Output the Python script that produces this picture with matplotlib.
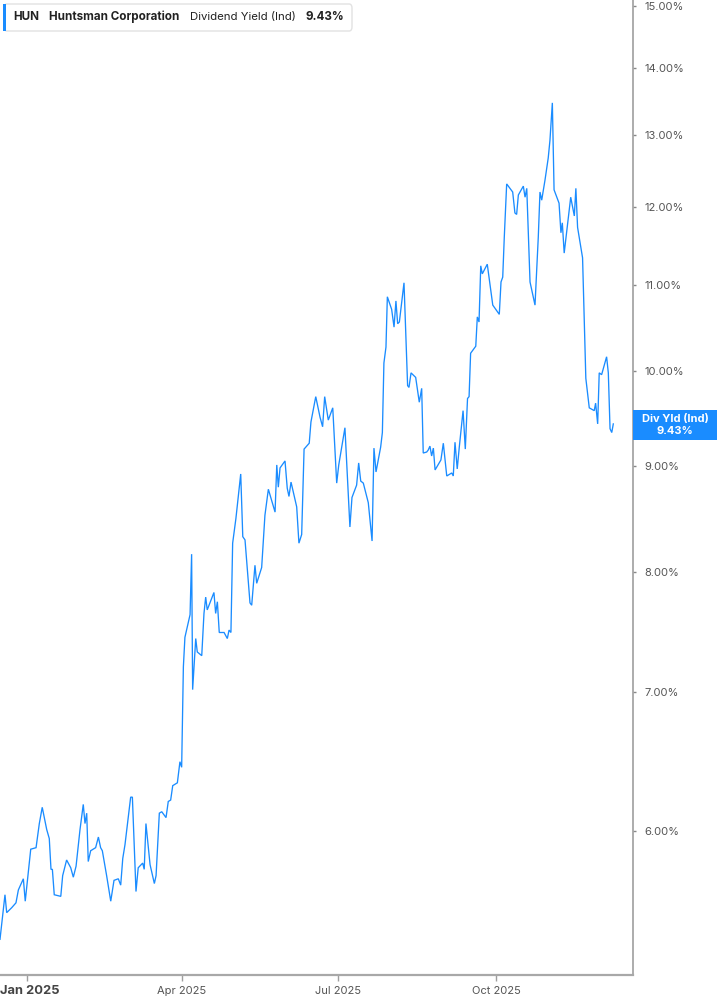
import numpy as np
import matplotlib
matplotlib.use("Agg")
import matplotlib.pyplot as plt
import matplotlib.dates as mdates
from matplotlib.patches import FancyBboxPatch, Rectangle
from matplotlib.ticker import FixedLocator, NullLocator

plt.rcParams['font.family'] = ['Inter', 'DejaVu Sans']

# ---- data ----
start_date = "2025-01-01"
day_offsets = [
    -15.9, -13.0, -12.0, -9.1, -6.6, -5.2, -2.3, -1.2, 2.0, 5.1,
    7.0, 8.7, 11.3, 12.8, 13.8, 14.6, 15.7, 19.5, 20.6, 22.9,
    25.3, 26.8, 28.4, 30.7, 32.6, 33.6, 34.6, 35.5, 36.9, 39.8,
    41.4, 42.7, 43.7, 46.2, 48.6, 50.5, 53.0, 54.4, 55.6, 56.9,
    60.2, 61.2, 63.3, 64.6, 67.2, 68.1, 69.1, 71.5, 74.0, 75.0,
    76.9, 78.3, 80.8, 82.1, 83.5, 84.7, 87.4, 88.9, 89.9, 90.9,
    91.8, 94.8, 95.7, 96.3, 98.1, 99.0, 101.6, 102.9, 103.9, 104.8,
    108.7, 109.7, 110.7, 111.8, 114.6, 116.5, 117.5, 118.6, 119.6, 121.5,
    124.3, 125.5, 126.8, 129.7, 130.7, 132.6, 133.6, 136.5, 138.4, 140.4,
    144.3, 145.3, 146.2, 147.2, 150.1, 151.4, 152.4, 153.6, 156.9, 158.2,
    159.8, 161.2, 164.2, 165.2, 168.0, 170.5, 172.0, 173.2, 175.3, 177.9,
    180.2, 181.4, 185.0, 187.9, 189.1, 191.8, 193.0, 194.2, 195.7, 198.6,
    200.8, 201.9, 203.1, 205.8, 206.8, 207.7, 208.9, 209.7, 212.2, 213.6,
    214.7, 215.7, 216.7, 219.4, 221.5, 222.3, 223.5, 226.2, 228.3, 229.7,
    230.6, 232.6, 233.5, 234.5, 235.5, 236.5, 237.5, 240.9, 242.3, 244.3,
    247.2, 248.1, 249.1, 250.4, 251.6, 253.8, 255.1, 256.4, 257.3, 258.2,
    261.2, 262.1, 263.1, 264.1, 265.0, 267.9, 271.1, 274.9, 275.9, 276.9,
    277.8, 279.2, 282.7, 284.0, 285.0, 286.0, 288.9, 289.9, 290.9, 292.2,
    292.8, 295.7, 297.6, 298.6, 299.6, 301.5, 303.4, 304.4, 305.8, 306.8,
    309.7, 310.8, 311.6, 312.7, 316.5, 318.6, 319.5, 320.5, 323.4, 325.3,
    327.3, 330.2, 331.0, 332.2, 333.1, 334.5, 337.4, 338.4, 339.4, 340.4,
    341.3,
]
div_yield = [
    5.32, 5.59, 5.48, 5.51, 5.54, 5.62, 5.69, 5.55, 5.88, 5.89,
    6.05, 6.16, 6.01, 5.95, 5.75, 5.75, 5.59, 5.58, 5.71, 5.81,
    5.76, 5.70, 5.77, 6.01, 6.18, 6.05, 6.12, 5.80, 5.87, 5.89,
    5.96, 5.89, 5.87, 5.71, 5.55, 5.68, 5.69, 5.65, 5.82, 5.91,
    6.23, 6.23, 5.61, 5.76, 5.79, 5.75, 6.05, 5.78, 5.66, 5.71,
    6.12, 6.13, 6.09, 6.20, 6.21, 6.31, 6.33, 6.48, 6.44, 7.20,
    7.44, 7.63, 8.16, 7.02, 7.43, 7.32, 7.29, 7.64, 7.78, 7.67,
    7.82, 7.64, 7.74, 7.48, 7.48, 7.43, 7.50, 7.48, 8.26, 8.49,
    8.92, 8.32, 8.29, 7.73, 7.71, 8.06, 7.90, 8.04, 8.52, 8.77,
    8.55, 9.01, 8.79, 8.98, 9.05, 8.78, 8.70, 8.84, 8.60, 8.26,
    8.34, 9.17, 9.23, 9.45, 9.72, 9.50, 9.40, 9.72, 9.47, 9.60,
    8.83, 9.01, 9.39, 8.41, 8.69, 8.81, 9.03, 8.85, 8.83, 8.64,
    8.28, 9.18, 8.94, 9.19, 9.34, 10.09, 10.27, 10.86, 10.71, 10.50,
    10.81, 10.54, 10.56, 11.03, 9.84, 9.82, 9.98, 9.93, 9.66, 9.81,
    9.13, 9.14, 9.16, 9.20, 9.10, 9.18, 8.96, 9.06, 9.23, 8.90,
    8.93, 8.90, 9.24, 8.97, 9.19, 9.57, 9.17, 9.70, 9.72, 10.20,
    10.28, 10.62, 10.56, 11.24, 11.14, 11.26, 10.76, 10.65, 11.04, 11.10,
    11.60, 12.31, 12.20, 11.92, 11.90, 12.16, 12.28, 12.13, 12.25, 11.40,
    11.04, 10.76, 11.60, 12.20, 12.09, 12.36, 12.67, 12.92, 13.47, 12.23,
    12.05, 11.66, 11.79, 11.40, 12.13, 11.88, 12.25, 11.73, 11.34, 9.92,
    9.60, 9.57, 9.65, 9.43, 9.98, 9.96, 10.16, 9.98, 9.38, 9.34,
    9.43,
]
ytick_values = [6, 7, 8, 9, 10, 11, 12, 13, 14, 15]
xtick_dates = ["2025-01-01", "2025-04-01", "2025-07-01", "2025-10-01"]
xtick_labels = ["Jan 2025", "Apr 2025", "Jul 2025", "Oct 2025"]
ticker_sym = "HUN"
company = "Huntsman Corporation"
metric = "Dividend Yield (Ind)"
last_label = "Div Yld (Ind)"
last_value = div_yield[-1]

# ---- figure ----
W, H = 717, 1005
fig = plt.figure(figsize=(W / 100, H / 100), dpi=100)
fig.patch.set_facecolor("white")

ax_bottom_px = 974.7
ax_right_px = 632.7
ax = fig.add_axes([0, (H - ax_bottom_px) / H, ax_right_px / W, ax_bottom_px / H])

base = mdates.date2num(np.datetime64(start_date))
xs = base + np.array(day_offsets)
line_color = "#1a8cff"
ax.plot(xs, div_yield, color=line_color, lw=0.95, solid_joinstyle="miter")

ax.set_yscale("log")
ax.set_ylim(5.115, 15.10)
ax.set_xlim(base - 15.9, base + 352.6)

ax.yaxis.set_major_locator(FixedLocator(ytick_values))
ax.yaxis.set_minor_locator(NullLocator())
ax.set_yticklabels([f"{v:.2f}%" for v in ytick_values])
ax.yaxis.tick_right()
ax.tick_params(axis="y", which="major", direction="out", length=2.5, width=1,
               color="#888888", labelsize=8, labelcolor="#555555", pad=6)

xt = [mdates.date2num(np.datetime64(d)) for d in xtick_dates]
ax.set_xticks(xt)
# first label is drawn separately (bold, left-anchored at the figure edge)
ax.set_xticklabels([""] + xtick_labels[1:])
ax.tick_params(axis="x", direction="out", length=4, width=1, color="#9e9e9e",
               labelsize=8, labelcolor="#555555", pad=4)

for s in ["top", "left"]:
    ax.spines[s].set_visible(False)
ax.spines["bottom"].set_color("#a8a8a8")
ax.spines["bottom"].set_linewidth(1.6)
ax.spines["right"].set_color("#9e9e9e")
ax.spines["right"].set_linewidth(1.2)
ax.grid(False)


def fx(px):
    return px / W


def fy(py):
    return 1 - py / H


fig.text(fx(0.5), fy(991), xtick_labels[0], fontsize=9.3, fontweight="bold",
         color="#444444", ha="left", va="center")

# header box
hdr = FancyBboxPatch((fx(4), fy(31)), fx(348), 27 / H,
                     boxstyle="round,pad=0,rounding_size=0.004",
                     transform=fig.transFigure, facecolor="white",
                     edgecolor="#e2e2e2", lw=1.0, zorder=5)
fig.add_artist(hdr)
fig.add_artist(Rectangle((fx(3), fy(31)), fx(3), 27 / H, transform=fig.transFigure,
                         facecolor=line_color, edgecolor="none", zorder=6))
hy = fy(17)
fs_h = 8.4
fig.text(fx(13), hy, ticker_sym, fontsize=fs_h, fontweight="bold", color="#222222",
         va="center", ha="left", zorder=7)
fig.text(fx(49), hy, company, fontsize=fs_h, fontweight="bold", color="#222222",
         va="center", ha="left", zorder=7)
fig.text(fx(190), hy, metric, fontsize=8.2, color="#222222",
         va="center", ha="left", zorder=7)
fig.text(fx(306), hy, f"{last_value:.2f}%", fontsize=fs_h, fontweight="bold",
         color="#222222", va="center", ha="left", zorder=7)

# last value label box
fig.add_artist(Rectangle((fx(633), fy(440)), fx(84), 30 / H, transform=fig.transFigure,
                         facecolor=line_color, edgecolor="none", zorder=6))
fig.text(fx(675), fy(419), last_label, fontsize=8, fontweight="bold", color="white",
         ha="center", va="center", zorder=7)
fig.text(fx(675), fy(431), f"{last_value:.2f}%", fontsize=8, fontweight="bold",
         color="white", ha="center", va="center", zorder=7)

fig.savefig("out.png", dpi=100, facecolor="white")
